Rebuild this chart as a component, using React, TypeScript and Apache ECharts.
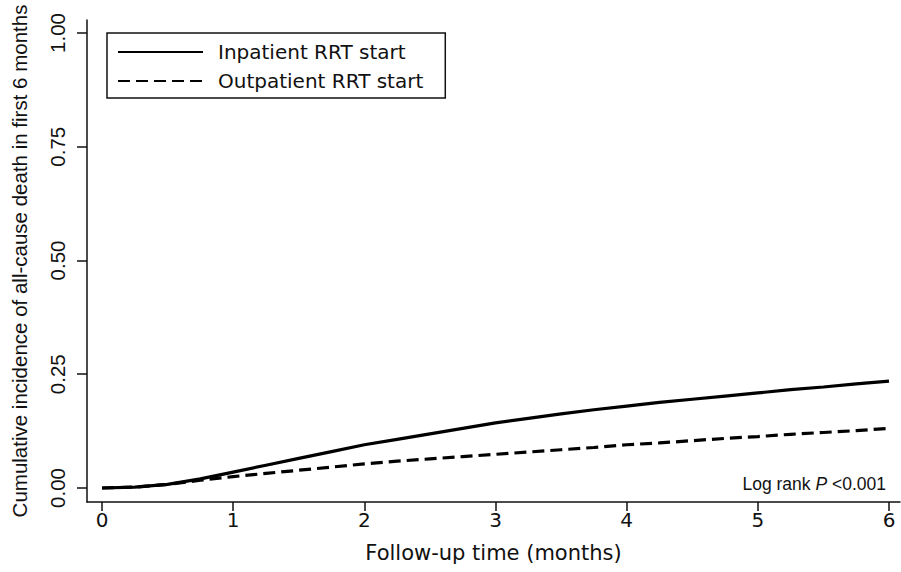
import React, { useEffect, useRef } from "react";
import * as echarts from "echarts";

const months = [0, 0.25, 0.5, 0.75, 1, 1.25, 1.5, 1.75, 2, 2.25, 2.5, 2.75, 3, 3.25, 3.5, 3.75, 4, 4.25, 4.5, 4.75, 5, 5.25, 5.5, 5.75, 6];
const inpatient = [0, 0.002, 0.008, 0.02, 0.035, 0.05, 0.065, 0.08, 0.095, 0.107, 0.119, 0.131, 0.143, 0.153, 0.163, 0.172, 0.18, 0.188, 0.195, 0.202, 0.209, 0.216, 0.222, 0.229, 0.235];
const outpatient = [0, 0.002, 0.008, 0.017, 0.025, 0.032, 0.039, 0.046, 0.053, 0.059, 0.064, 0.069, 0.074, 0.079, 0.084, 0.089, 0.095, 0.099, 0.104, 0.109, 0.113, 0.118, 0.122, 0.126, 0.131];
const xTicks = [0, 1, 2, 3, 4, 5, 6];
const yTicks = [0, 0.25, 0.5, 0.75, 1];
const seriesNames = ["Inpatient RRT start", "Outpatient RRT start"];

const WIDE = "'DejaVu Sans', sans-serif";
const ARIAL = "'Liberation Sans', Arial, sans-serif";

export default function App() {
  const ref = useRef<HTMLDivElement>(null);
  useEffect(() => {
    if (!ref.current) return;
    const chart = echarts.init(ref.current, null, { renderer: "svg" });
    const pair = (arr: number[]) => months.map((m, i) => [m, arr[i]]);
    chart.setOption({
      animation: false,
      backgroundColor: "#fff",
      grid: { left: 87, right: 1, top: 20, bottom: 70 },
      xAxis: {
        type: "value",
        min: -0.1144,
        max: 6.0839,
        name: "Follow-up time (months)",
        nameLocation: "middle",
        nameGap: 40,
        nameTextStyle: { fontFamily: WIDE, fontSize: 21, color: "#111" },
        axisLine: { onZero: false, lineStyle: { color: "#111", width: 1.5 } },
        axisTick: { show: true, length: 9, customValues: xTicks, lineStyle: { color: "#111", width: 1.5 } },
        axisLabel: { customValues: xTicks, margin: 8, fontFamily: WIDE, fontSize: 20, color: "#111" },
        splitLine: { show: false },
      },
      yAxis: {
        type: "value",
        min: -0.0308,
        max: 1.0286,
        name: "Cumulative incidence of all-cause death in first 6 months",
        nameLocation: "middle",
        nameRotate: 90,
        nameGap: 57,
        nameTextStyle: { fontFamily: ARIAL, fontSize: 20.5, color: "#111" },
        axisLine: { show: true, onZero: false, lineStyle: { color: "#111", width: 1.5 } },
        axisTick: { show: true, length: 10, customValues: yTicks, lineStyle: { color: "#111", width: 1.5 } },
        axisLabel: {
          customValues: yTicks,
          rotate: 90,
          margin: 19,
          fontFamily: ARIAL,
          fontSize: 20.5,
          color: "#111",
          formatter: (v: number) => v.toFixed(2),
        },
        splitLine: { show: false },
      },
      legend: {
        orient: "vertical",
        left: 107,
        top: 33,
        selectedMode: false,
        borderColor: "#111",
        borderWidth: 1.5,
        borderRadius: 0,
        padding: [9, 22, 7, 10],
        itemWidth: 85,
        itemHeight: 14,
        itemGap: 9,
        itemStyle: { opacity: 0 },
        formatter: (name: string) => "{g|}" + name,
        textStyle: {
          fontFamily: WIDE,
          fontSize: 20,
          color: "#111",
          rich: { g: { width: 10 } },
        },
        data: seriesNames,
      },
      graphic: [
        {
          type: "text",
          x: 886,
          y: 484,
          style: {
            text: "{n|Log rank }{i|P}{n| <0.001}",
            align: "right",
            verticalAlign: "middle",
            rich: {
              n: { fontFamily: ARIAL, fontSize: 17.5, fill: "#111" },
              i: { fontFamily: ARIAL, fontSize: 17.5, fontStyle: "italic", fill: "#111" },
            },
          },
        },
      ],
      series: [
        {
          name: seriesNames[0],
          type: "line",
          data: pair(inpatient),
          symbol: "none",
          lineStyle: { color: "#000", width: 3.2, type: "solid" },
          itemStyle: { color: "#000" },
        },
        {
          name: seriesNames[1],
          type: "line",
          data: pair(outpatient),
          symbol: "none",
          lineStyle: { color: "#000", width: 3.2, type: [12, 6] },
          itemStyle: { color: "#000" },
        },
      ],
    });
    return () => chart.dispose();
  }, []);
  return <div ref={ref} style={{ position: "absolute", left: 0, top: 0, width: 901, height: 572 }} />;
}
